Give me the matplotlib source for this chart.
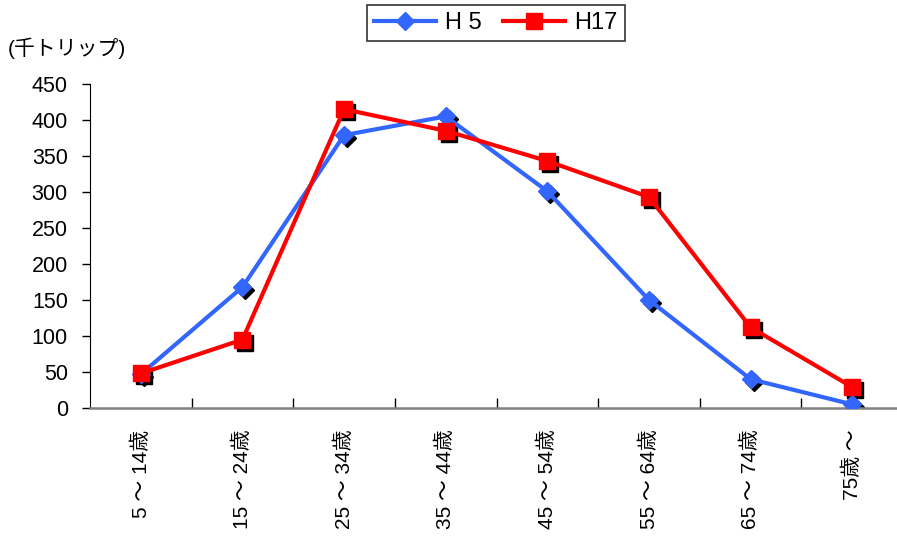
import matplotlib
matplotlib.use("Agg")
import matplotlib.pyplot as plt
from matplotlib.transforms import offset_copy

# Trips by age group (thousand trips)
categories = ["5 ～ 14歳", "15 ～ 24歳", "25 ～ 34歳", "35 ～ 44歳",
              "45 ～ 54歳", "55 ～ 64歳", "65 ～ 74歳", "75歳 ～"]
h5 = [47, 168, 379, 405, 301, 150, 40, 5]
h17 = [48, 95, 415, 385, 343, 293, 112, 29]
yticks = [0, 50, 100, 150, 200, 250, 300, 350, 400, 450]

fam = ["Liberation Sans", "Noto Sans CJK JP", "DejaVu Sans"]
plt.rcParams["font.family"] = fam

fig = plt.figure(figsize=(8.97, 5.36), dpi=100)
ax = fig.add_axes([90 / 897, 128 / 536, 807 / 897, 324 / 536])

x = list(range(len(categories)))
blue = "#3366FF"
red = "#FF0000"

# drop shadows under the markers
shadow = offset_copy(ax.transData, fig=fig, x=3, y=-3, units="dots")
ax.plot(x, h5, linestyle="none", marker="D", markersize=9.5, color="black",
        transform=shadow, zorder=2)
ax.plot(x, h17, linestyle="none", marker="s", markersize=11, color="black",
        transform=shadow, zorder=2)

ax.plot(x, h5, color=blue, lw=3, marker="D", markersize=9.5,
        markeredgecolor=blue, label="H 5", zorder=3)
ax.plot(x, h17, color=red, lw=3, marker="s", markersize=11,
        markeredgecolor=red, label="H17", zorder=4)

ax.set_ylim(0, 450)
ax.set_yticks(yticks)
ax.set_xlim(-0.5, 7.44)
ax.set_xticks(x)
ax.set_xticklabels([])
ax.set_xticks([i - 0.5 for i in range(1, 8)], minor=True)
ax.tick_params(axis="x", which="major", length=0)
ax.tick_params(axis="x", which="minor", direction="in", length=7,
               color="black", width=1)
ax.tick_params(axis="y", direction="out", length=6, width=1, labelsize=15.5,
               pad=10)

for i, lab in enumerate(categories):
    ax.text(i, -30, lab, rotation=90, ha="center", va="top", fontsize=15,
            family=fam)

for s in ("top", "right"):
    ax.spines[s].set_visible(False)
ax.spines["bottom"].set_color("#808080")
ax.spines["bottom"].set_linewidth(1.8)
ax.spines["left"].set_color("black")

fig.text(8 / 897, 1 - 48 / 536, "(千トリップ)", fontsize=15, va="center",
         ha="left", family=fam)

leg = fig.legend(loc="center", bbox_to_anchor=(496 / 897, 1 - 23 / 536),
                 ncol=2, fontsize=17, frameon=True, fancybox=False,
                 edgecolor="black", handlelength=2.6, borderpad=0.3,
                 columnspacing=0.9, handletextpad=0.4)
leg.get_frame().set_linewidth(1.2)

fig.savefig("out.png", dpi=100)
